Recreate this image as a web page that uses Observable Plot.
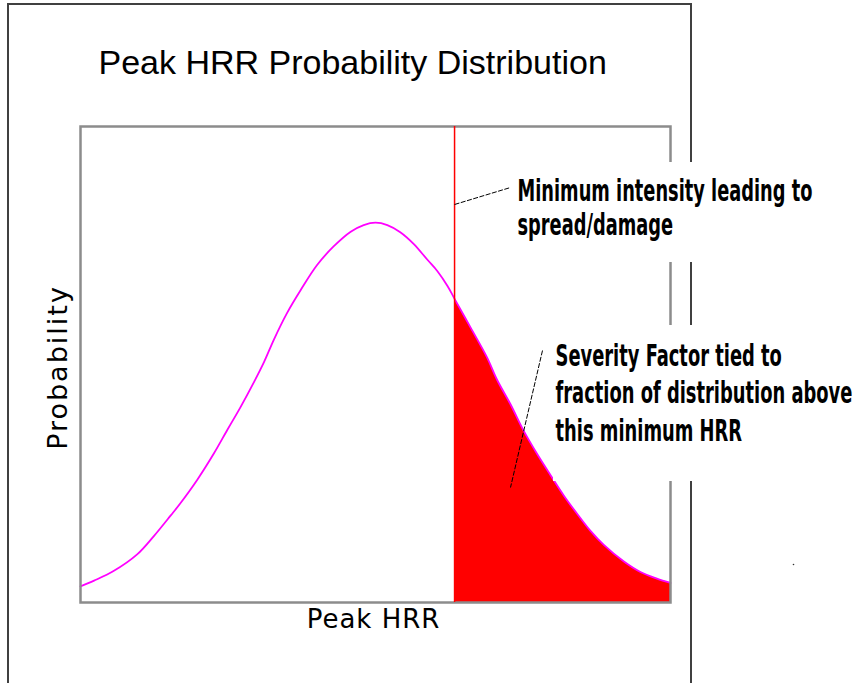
<!DOCTYPE html>
<html>
<head>
<meta charset="utf-8">
<script src="https://cdn.jsdelivr.net/npm/d3@7"></script>
<script src="https://cdn.jsdelivr.net/npm/@observablehq/plot@0.6"></script>
<style>
  html, body { margin: 0; padding: 0; background: #fff; }
  #wrap { position: relative; width: 859px; height: 683px; overflow: hidden; background: #fff; }
  #outer { position: absolute; left: 7px; top: 3px; width: 681px; height: 730px; border: 2px solid #404040; }
  #chart { position: absolute; left: 0; top: 0; }
</style>
</head>
<body>
<div id="wrap"><div id="outer"></div><div id="chart"></div></div>
<script>
// ---- data (arbitrary units 0–100) ----
const peakHRR = [0, 2.3, 5.6, 9.6, 12.4, 15.3, 16.9, 19.8, 22.6, 24.9, 27.1, 29.4, 31.1, 32.8, 35.0, 37.3, 40.1, 42.9, 45.8, 48.0, 50.0, 52.0, 54.2, 56.5, 58.8, 60.5, 62.2, 63.4, 66.1, 68.9, 70.6, 72.9, 75.1, 77.4, 79.7, 81.9, 84.2, 86.4, 88.7, 92.1, 94.9, 97.7, 100];
const probability = [3.4, 4.6, 6.6, 10.1, 13.9, 18.3, 20.8, 25.8, 31.3, 36.3, 41.0, 46.3, 50.5, 55.3, 60.8, 65.6, 70.9, 74.8, 77.9, 79.3, 79.8, 79.3, 77.8, 75.3, 72.0, 69.6, 66.5, 63.8, 57.8, 51.5, 46.8, 41.6, 36.1, 31.2, 26.7, 22.5, 18.6, 15.1, 12.1, 8.6, 6.4, 5.0, 4.1];
const thresholdHRR = 63.4;

const titleText = "Peak HRR Probability Distribution";
const xLabel = "Peak HRR";
const yLabel = "Probability";
const noteThreshold = "Minimum intensity leading to\nspread/damage";
const noteSeverity = "Severity Factor tied to\nfraction of distribution above\nthis minimum HRR";

// ---- derived tables ----
const curveData = peakHRR.map((x, i) => ({x, y: probability[i]}));
const tailData = curveData.filter(d => d.x >= thresholdHRR);

// ---- layout ----
const W = 859, H = 683, mL = 80, mT = 126, mR = 189, mB = 81;
const px = v => (v - mL) / (W - mL - mR) * 100;   // page pixel -> x units (annotation placement)
const py = v => (H - mB - v) / (H - mT - mB) * 100; // page pixel -> y units

const annoFont = "'DejaVu Sans Condensed','DejaVu Sans',sans-serif";
const labelFont = "'DejaVu Sans',Verdana,sans-serif";

const chart = Plot.plot({
  width: W, height: H,
  marginLeft: mL, marginTop: mT, marginRight: mR, marginBottom: mB,
  x: {domain: [0, 100], axis: null},
  y: {domain: [0, 100], axis: null},
  style: {background: "transparent", overflow: "visible"},
  marks: [
    Plot.areaY(tailData, {x: "x", y: "y", fill: "#ff0000", curve: "catmull-rom"}),
    Plot.line(curveData, {x: "x", y: "y", stroke: "#ff00ff", strokeWidth: 1.8, curve: "catmull-rom"}),
    Plot.frame({stroke: "#8c8c8c", strokeWidth: 2.5}),
    Plot.ruleX([thresholdHRR], {y1: 0, y2: 100, stroke: "#ff0000", strokeWidth: 1.5}),
    // white boxes behind the annotation texts
    Plot.rect([0], {x1: px(512), x2: px(900), y1: py(162), y2: py(262), fill: "white"}),
    Plot.rect([0], {x1: px(553), x2: px(900), y1: py(325), y2: py(481), fill: "white"}),
    // title & axis labels
    Plot.text([titleText], {frameAnchor: "top-left", dx: 18, dy: -77, textAnchor: "start", fontSize: 34, fontFamily: "'Liberation Sans',Arial,sans-serif", fill: "black"}),
    Plot.text([yLabel], {frameAnchor: "left", dx: -22, dy: 3, rotate: -90, textAnchor: "middle", fontSize: 27, fontFamily: labelFont, fill: "black"}),
    Plot.text([xLabel], {frameAnchor: "bottom", dx: -2, dy: 25, fontSize: 26, fontFamily: labelFont, fill: "black"}),
    // annotations
    Plot.text([noteThreshold], {x: px(517), y: py(176.5), textAnchor: "start", lineAnchor: "top", lineHeight: 1.13, fontSize: 30, fontWeight: "bold", fontFamily: annoFont, fill: "black"}),
    Plot.text([noteSeverity], {x: px(555), y: py(338.5), textAnchor: "start", lineAnchor: "top", lineHeight: 1.25, fontSize: 30, fontWeight: "bold", fontFamily: annoFont, fill: "black"}),
    Plot.link([0], {x1: thresholdHRR, y1: py(204), x2: px(510), y2: py(187), stroke: "black", strokeWidth: 1, strokeDasharray: "5,1.5"}),
    Plot.link([0], {x1: px(542), y1: py(350), x2: px(510), y2: py(487), stroke: "black", strokeWidth: 1, strokeDasharray: "5,1.5"}),
    Plot.dot([0], {x: px(793), y: py(564), r: 0.8, fill: "#333", stroke: null})
  ]
});

document.getElementById("chart").appendChild(chart);

const svg = d3.select(chart);
svg.selectAll("text")
  .filter(function() { return this.textContent === yLabel; })
  .style("letter-spacing", "2px");
svg.selectAll("text")
  .filter(function() { return this.textContent === xLabel; })
  .style("letter-spacing", "1px");

// condense the annotation texts horizontally (about their start anchor) so the widest line matches the reference width
const condense = (firstLine, targetWidth) => {
  svg.selectAll("text")
    .filter(function() { return this.textContent.startsWith(firstLine); })
    .each(function() {
      const bb = this.getBBox();
      const s = targetWidth / bb.width;
      const t = this.getAttribute("transform");
      if (t) {
        this.setAttribute("transform", `${t} scale(${s},1)`);
      } else {
        const g = document.createElementNS("http://www.w3.org/2000/svg", "g");
        g.setAttribute("transform", `translate(${bb.x},0) scale(${s},1) translate(${-bb.x},0)`);
        this.parentNode.insertBefore(g, this);
        g.appendChild(this);
      }
    });
};
condense("Minimum intensity", 295);
condense("Severity Factor", 297);
</script>
</body>
</html>
